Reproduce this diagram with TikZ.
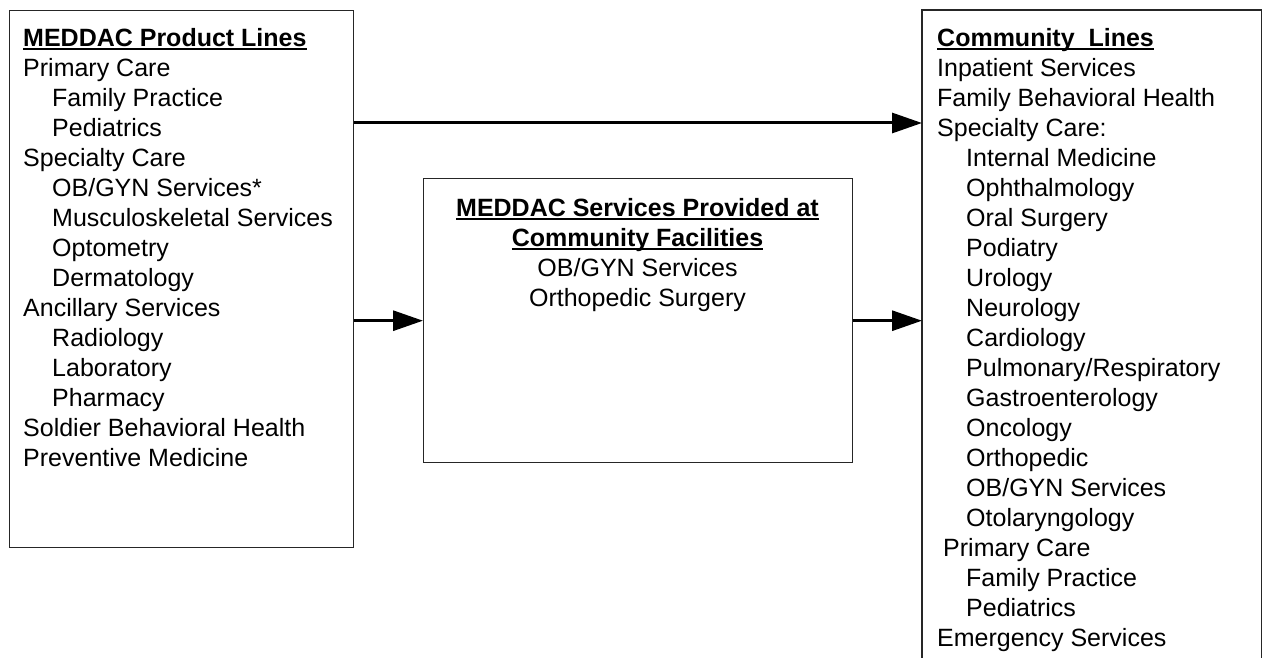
\documentclass[tikz,border=0pt]{standalone}
\usepackage{fontspec}
\setmainfont{Liberation Sans}
\usetikzlibrary{arrows.meta,positioning}
\newsavebox\headbox
\newcommand{\headtxt}[1]{\sbox\headbox{\bfseries #1}\usebox\headbox\llap{\rule[-3.5pt]{\wd\headbox}{2.2pt}}}
\newcommand{\ind}{\hspace*{29pt}}
\tikzset{
  panel/.style={draw=black!85,line width=1.4pt,inner sep=0pt,anchor=north west},
  list/.style={font=\fontsize{25}{30}\selectfont,align=left,inner sep=0pt,anchor=north west},
  flow/.style={-{Triangle[length=30pt,width=20pt]},line width=3pt},
}

\begin{document}
\begin{tikzpicture}[x=1pt,y=-1pt]
\useasboundingbox (0,0) rectangle (1267,658);
% boxes
\node[panel,minimum width=344pt,minimum height=537pt] (prod) at (9,10) {};
\node[panel,minimum width=429pt,minimum height=284pt] (mid) at (423,178) {};
\node[inner sep=0pt,anchor=north west,minimum width=339pt,minimum height=670pt] (comm) at (922,10) {};
\draw[black!85,line width=1.4pt] (comm.south west) -- (comm.north west) -- (comm.north east) -- (comm.south east);
% texts
\node[list] (prodtxt) at (23,28) {\headtxt{MEDDAC Product Lines}\\
Primary Care\\
\ind Family Practice\\
\ind Pediatrics\\
Specialty Care\\
\ind OB/GYN Services*\\
\ind Musculoskeletal Services\\
\ind Optometry\\
\ind Dermatology\\
Ancillary Services\\
\ind Radiology\\
\ind Laboratory\\
\ind Pharmacy\\
Soldier Behavioral Health\\
Preventive Medicine};
\node[list,align=center,anchor=north] (midtxt) at (637.5,198) {\headtxt{MEDDAC Services Provided at}\\
\headtxt{Community Facilities}\\
OB/GYN Services\\
Orthopedic Surgery};
\node[list] (commtxt) at (937,28) {\headtxt{Community\ \ Lines}\\
Inpatient Services\\
Family Behavioral Health\\
Specialty Care:\\
\ind Internal Medicine\\
\ind Ophthalmology\\
\ind Oral Surgery\\
\ind Podiatry\\
\ind Urology\\
\ind Neurology\\
\ind Cardiology\\
\ind Pulmonary/Respiratory\\
\ind Gastroenterology\\
\ind Oncology\\
\ind Orthopedic\\
\ind OB/GYN Services\\
\ind Otolaryngology\\
\hspace*{6pt}Primary Care\\
\ind Family Practice\\
\ind Pediatrics\\
Emergency Services};
% arrows
\coordinate (toprow) at (0,123);
\draw[flow] (prod.east |- toprow) -- (comm.west |- toprow);
\draw[flow] (prod.east |- mid.west) -- (mid.west);
\draw[flow] (mid.east) -- (comm.west |- mid.east);
\end{tikzpicture}
\end{document}
